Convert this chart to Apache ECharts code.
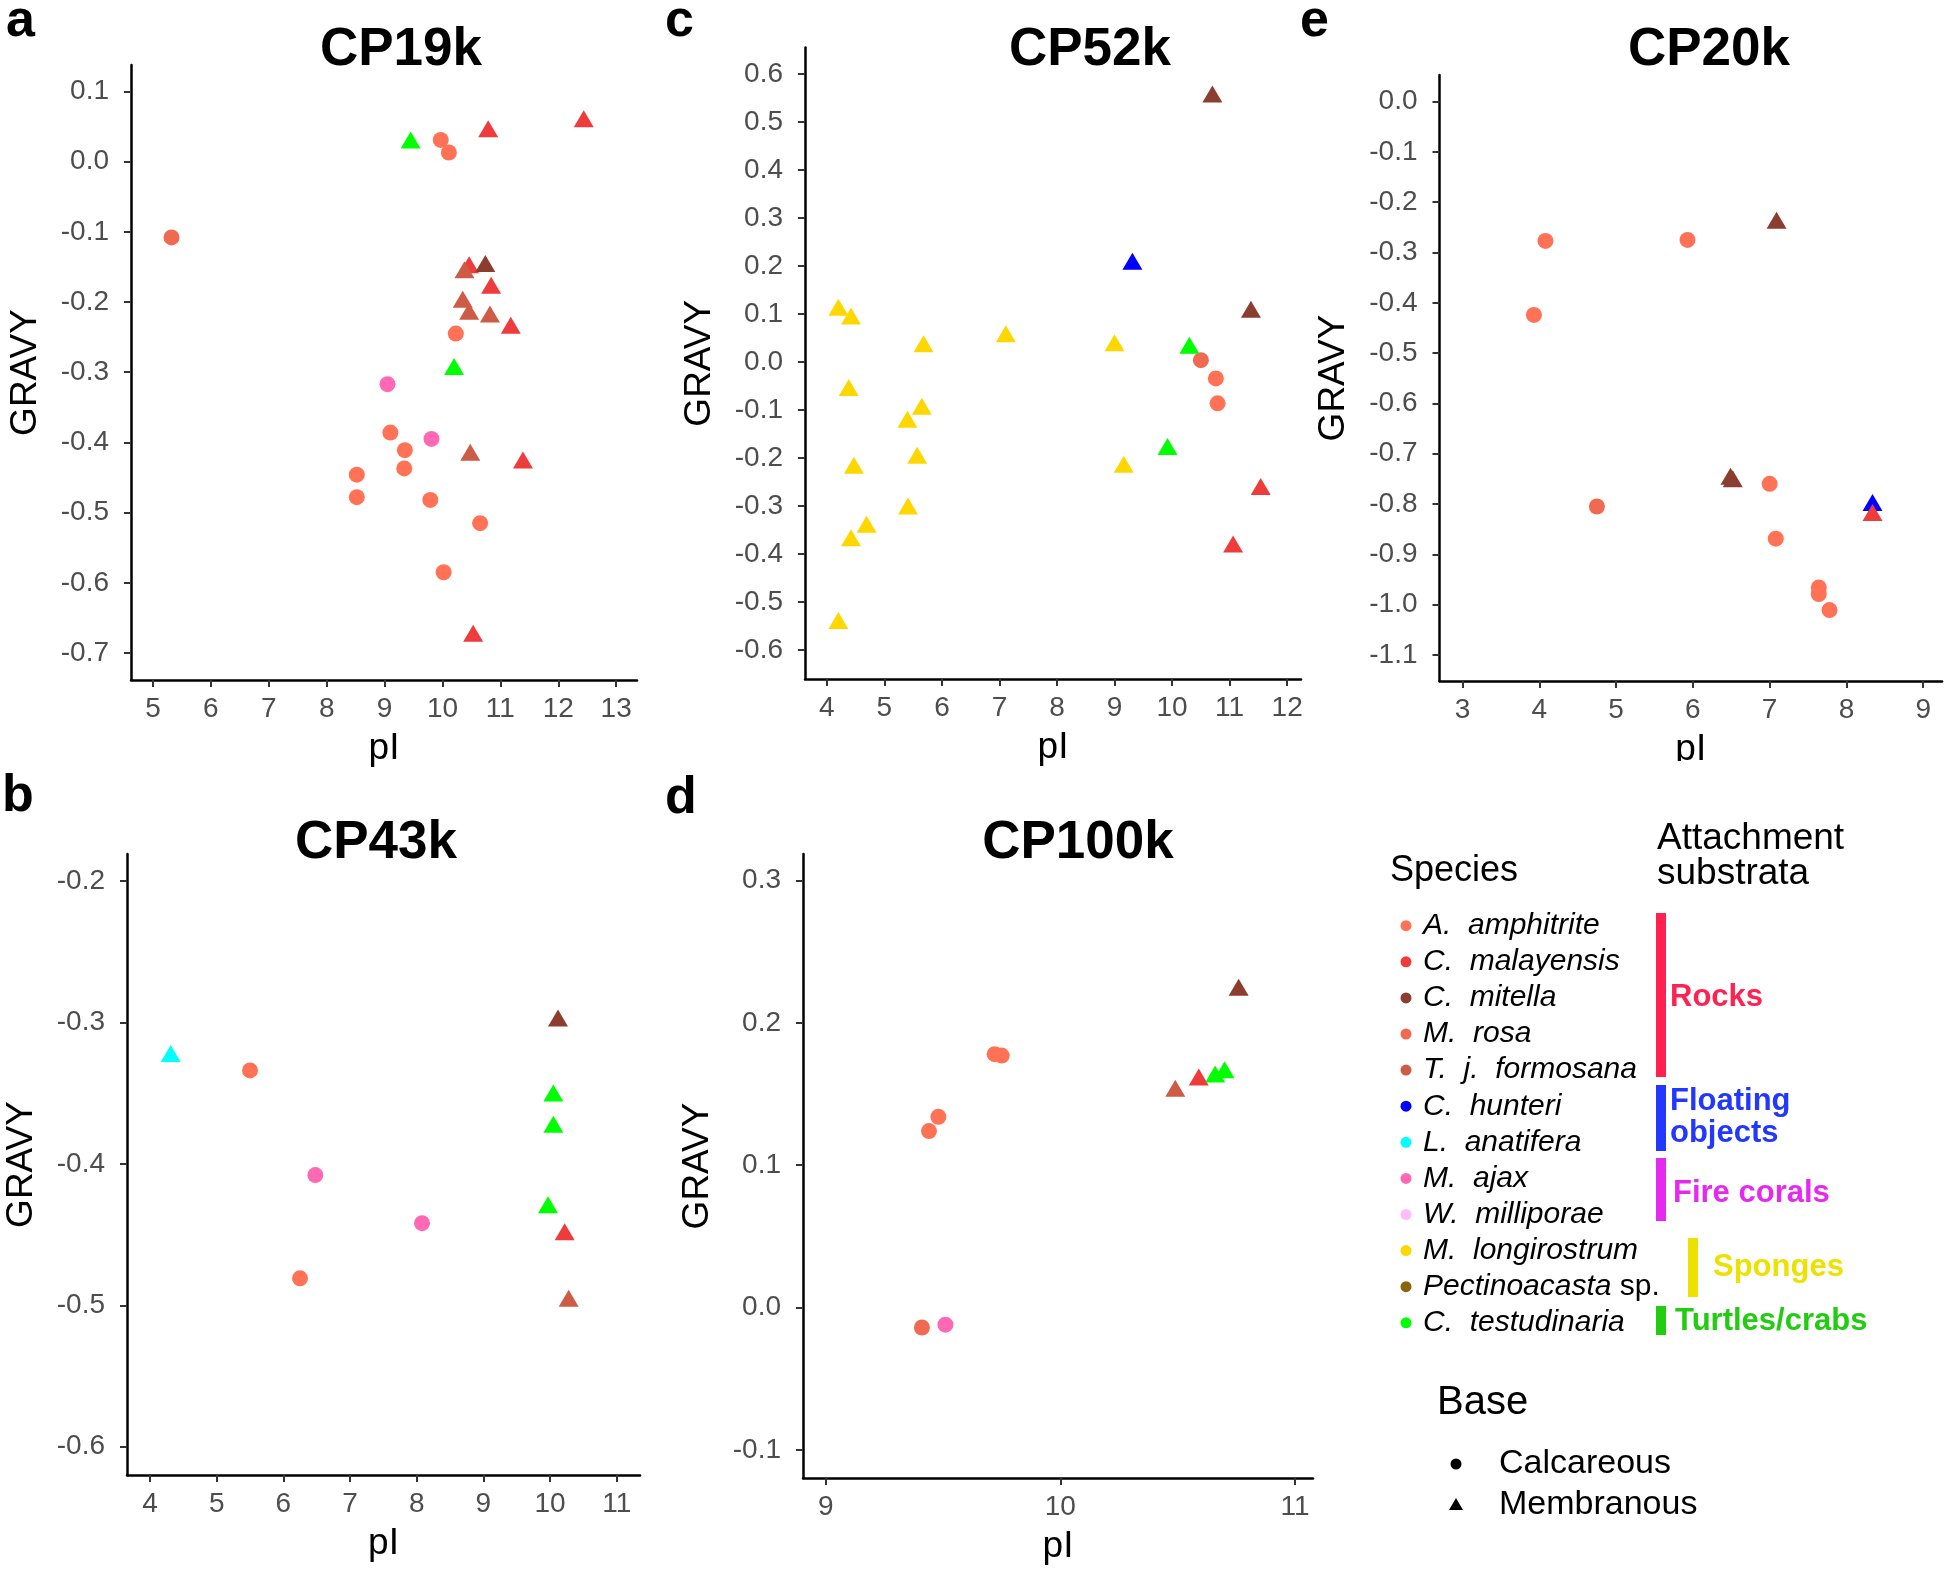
<!DOCTYPE html>
<html><head><meta charset="utf-8">
<script src="https://cdn.jsdelivr.net/npm/echarts@6/dist/echarts.min.js"></script>
<style>html,body{margin:0;padding:0;background:#fff}#chart{width:1946px;height:1576px}</style>
</head><body><div id="chart"></div>
<script>
// ---------- species ----------
const speciesKeys   = ['Aam','Cma','Cmi','Mro','Tjf','Chu','Lan','Maj','Wmi','Mlo','Pec','Cte'];
const speciesNames  = ['A. amphitrite','C. malayensis','C. mitella','M. rosa','T. j. formosana','C. hunteri','L. anatifera','M. ajax','W. milliporae','M. longirostrum','Pectinoacasta sp.','C. testudinaria'];
const speciesBase   = ['Calcareous','Membranous','Membranous','Calcareous','Membranous','Membranous','Membranous','Calcareous','Calcareous','Membranous','Membranous','Membranous'];
const speciesColors = ['#FF7256','#EE3B3B','#8B3E2F','#EE6A50','#CD5B45','#0000FF','#00FFFF','#FF69B4','#FFBBFF','#FFD700','#8B6508','#00FF00'];
const substrataNames  = ['Rocks','Floating\nobjects','Fire corals','Sponges','Turtles/crabs'];
const substrataColors = ['#FF2250','#2238FF','#E52AF0','#EDE100','#22CC11'];
const baseNames = ['Calcareous','Membranous'];

// ---------- CP19k (a) ----------
const cp19k_pI    = [9.45,9.97,10.11,10.79,12.44,5.32,10.46,10.74,10.38,10.84,10.35,10.46,10.82,11.18,10.23,10.20,9.05,9.10,9.81,9.35,9.34,10.48,11.39,8.52,8.52,9.79,10.65,10.02,10.53];
const cp19k_gravy = [0.031,0.031,0.013,0.047,0.061,-0.108,-0.147,-0.145,-0.154,-0.176,-0.196,-0.213,-0.217,-0.233,-0.245,-0.292,-0.317,-0.386,-0.395,-0.411,-0.437,-0.414,-0.425,-0.446,-0.478,-0.482,-0.515,-0.585,-0.672];
const cp19k_species = ['Cte','Aam','Aam','Cma','Cma','Mro','Cma','Cmi','Tjf','Cma','Tjf','Tjf','Tjf','Cma','Aam','Cte','Maj','Aam','Maj','Aam','Aam','Tjf','Cma','Aam','Aam','Aam','Aam','Aam','Cma'];
const cp19k_xTicks = [5,6,7,8,9,10,11,12,13];
const cp19k_yTicks = [-0.7,-0.6,-0.5,-0.4,-0.3,-0.2,-0.1,0.0,0.1];

// ---------- CP43k (b) ----------
const cp43k_pI    = [4.31,5.50,6.48,6.25,8.08,10.12,10.05,10.05,9.97,10.22,10.28];
const cp43k_gravy = [-0.322,-0.334,-0.408,-0.481,-0.442,-0.297,-0.350,-0.372,-0.429,-0.448,-0.495];
const cp43k_species = ['Lan','Aam','Maj','Aam','Maj','Cmi','Cte','Cte','Cte','Cma','Tjf'];
const cp43k_xTicks = [4,5,6,7,8,9,10,11];
const cp43k_yTicks = [-0.6,-0.5,-0.4,-0.3,-0.2];

// ---------- CP52k (c) ----------
const cp52k_pI    = [4.20,4.42,4.38,4.47,4.69,4.42,4.20,5.68,5.65,5.40,5.57,5.41,7.11,9.00,9.16,9.31,10.70,11.37,10.30,9.92,10.50,10.76,10.79,11.54,11.06];
const cp52k_gravy = [0.114,0.096,-0.053,-0.215,-0.338,-0.366,-0.538,0.038,-0.092,-0.119,-0.194,-0.300,0.059,0.040,-0.213,0.210,0.558,0.110,0.035,-0.176,0.004,-0.034,-0.086,-0.259,-0.379];
const cp52k_species = ['Mlo','Mlo','Mlo','Mlo','Mlo','Mlo','Mlo','Mlo','Mlo','Mlo','Mlo','Mlo','Mlo','Mlo','Mlo','Chu','Cmi','Cmi','Cte','Cte','Mro','Aam','Aam','Cma','Cma'];
const cp52k_xTicks = [4,5,6,7,8,9,10,11,12];
const cp52k_yTicks = [-0.6,-0.5,-0.4,-0.3,-0.2,-0.1,0.0,0.1,0.2,0.3,0.4,0.5,0.6];

// ---------- CP100k (d) ----------
const cp100k_pI    = [9.41,9.51,9.44,9.48,9.72,9.75,10.49,10.59,10.66,10.70,10.76];
const cp100k_gravy = [-0.014,-0.012,0.124,0.134,0.178,0.177,0.154,0.162,0.164,0.167,0.225];
const cp100k_species = ['Mro','Maj','Aam','Aam','Aam','Aam','Tjf','Cma','Cte','Cte','Cmi'];
const cp100k_xTicks = [9,10,11];
const cp100k_yTicks = [-0.1,0.0,0.1,0.2,0.3];

// ---------- CP20k (e) ----------
const cp20k_pI    = [4.08,5.93,3.93,7.09,6.49,6.52,4.75,7.00,7.08,7.64,7.64,7.78,8.34,8.34];
const cp20k_gravy = [-0.277,-0.275,-0.424,-0.236,-0.745,-0.750,-0.805,-0.760,-0.869,-0.966,-0.979,-1.011,-0.797,-0.817];
const cp20k_species = ['Aam','Aam','Aam','Cmi','Cmi','Cmi','Mro','Aam','Aam','Aam','Aam','Aam','Chu','Cma'];
const cp20k_xTicks = [3,4,5,6,7,8,9];
const cp20k_yTicks = [-1.1,-1.0,-0.9,-0.8,-0.7,-0.6,-0.5,-0.4,-0.3,-0.2,-0.1,0.0];

const panelTitles  = ['CP19k','CP43k','CP52k','CP100k','CP20k'];
const panelLetters = ['a','b','c','d','e'];

// ---------- build ----------
const FONT = '"Liberation Sans", Arial, Helvetica, sans-serif';
const panels = [
  {pI:cp19k_pI,  gravy:cp19k_gravy,  species:cp19k_species,  xTicks:cp19k_xTicks,  yTicks:cp19k_yTicks,
   box:{left:131, top:65, width:506, height:615}, xr:[4.62,13.36], yr:[-0.7385,0.1377],
   title:[396,19], letter:[6,-4]},
  {pI:cp43k_pI,  gravy:cp43k_gravy,  species:cp43k_species,  xTicks:cp43k_xTicks,  yTicks:cp43k_yTicks,
   box:{left:127, top:854, width:513, height:621}, xr:[3.655,11.35], yr:[-0.62,-0.181],
   title:[371,812], letter:[2,771]},
  {pI:cp52k_pI,  gravy:cp52k_gravy,  species:cp52k_species,  xTicks:cp52k_xTicks,  yTicks:cp52k_yTicks,
   box:{left:805, top:47.5, width:496, height:631.5}, xr:[3.62,12.24], yr:[-0.66,0.655],
   title:[1085,19], letter:[665,-4]},
  {pI:cp100k_pI, gravy:cp100k_gravy, species:cp100k_species, xTicks:cp100k_xTicks, yTicks:cp100k_yTicks,
   box:{left:803, top:854, width:510, height:624}, xr:[8.903,11.077], yr:[-0.1197,0.3186],
   title:[1073,812], letter:[665,773]},
  {pI:cp20k_pI,  gravy:cp20k_gravy,  species:cp20k_species,  xTicks:cp20k_xTicks,  yTicks:cp20k_yTicks,
   box:{left:1439.5, top:75, width:502.5, height:606}, xr:[2.70,9.245], yr:[-1.152,0.053],
   title:[1704,19], letter:[1300,-4]}
];

const grids = [], xAxes = [], yAxes = [], series = [], titles = [], graphics = [];
panels.forEach((p, pi) => {
  grids.push(Object.assign({containLabel:false}, p.box));
  xAxes.push({
    type:'value', gridIndex:pi, min:p.xr[0], max:p.xr[1],
    splitLine:{show:false},
    axisLine:{show:true, onZero:false, lineStyle:{color:'#000', width:2.5}},
    axisTick:{show:true, length:7, lineStyle:{color:'#333', width:2}, customValues:p.xTicks},
    axisLabel:{show:true, customValues:p.xTicks, margin:15, color:'#4D4D4D', fontSize:28, fontFamily:FONT,
               formatter:v=>String(Math.round(v))},
    name:'pI', nameLocation:'middle', nameGap:50,
    nameTextStyle:{fontSize:37, color:'#000', fontFamily:FONT}
  });
  yAxes.push({
    type:'value', gridIndex:pi, min:p.yr[0], max:p.yr[1],
    splitLine:{show:false},
    axisLine:{show:true, onZero:false, lineStyle:{color:'#000', width:2.5}},
    axisTick:{show:true, length:7, lineStyle:{color:'#333', width:2}, customValues:p.yTicks},
    axisLabel:{show:true, customValues:p.yTicks, margin:22, color:'#4D4D4D', fontSize:28, fontFamily:FONT,
               formatter:v=>v.toFixed(1)},
    name:'GRAVY', nameLocation:'middle', nameGap:87,
    nameTextStyle:{fontSize:37, color:'#000', fontFamily:FONT}
  });
  titles.push({text:panelTitles[pi], left:p.title[0], top:p.title[1], textAlign:'center',
    textStyle:{fontSize:53, fontWeight:'bold', color:'#000', fontFamily:FONT}});
  graphics.push({type:'text', x:p.letter[0], y:p.letter[1],
    style:{text:panelLetters[pi], font:'bold 52px '+FONT, fill:'#000', textAlign:'left', textVerticalAlign:'top'}});
  speciesKeys.forEach((k, si) => {
    const pts = [];
    p.species.forEach((s, j) => { if (s === k) pts.push([p.pI[j], p.gravy[j]]); });
    if (!pts.length) return;
    const calc = speciesBase[si] === 'Calcareous';
    series.push({
      type:'scatter', name:speciesNames[si], xAxisIndex:pi, yAxisIndex:pi, data:pts,
      symbol: calc ? 'circle' : 'triangle', symbolSize: calc ? 16 : [20,17],
      itemStyle:{color:speciesColors[si], opacity:1}, z: k === 'Chu' ? 1 : 2,
      silent:true, emphasis:{disabled:true}
    });
  });
});

// panel e's x-axis title is cut at the bottom of its panel in the original figure
graphics.push({type:'rect', z:100, shape:{x:1640, y:761, width:120, height:16}, style:{fill:'#fff'}});

// ---------- legend: species ----------
graphics.push({type:'text', x:1390, y:871, style:{text:'Species', font:'36px '+FONT, fill:'#000', textAlign:'left', textVerticalAlign:'middle'}});
graphics.push({type:'text', x:1657, y:856, style:{text:'Attachment\nsubstrata', font:'37px '+FONT, lineHeight:35, fill:'#000', textAlign:'left', textVerticalAlign:'middle'}});
const rowY = i => 925.7 + i * 36.1;
speciesNames.forEach((nm, i) => {
  graphics.push({type:'circle', shape:{cx:1406, cy:rowY(i), r:5.5}, style:{fill:speciesColors[i]}});
  const parts = nm.split(' ');
  let txt;
  if (nm.endsWith(' sp.')) {
    txt = '{i|' + nm.replace(' sp.','') + '}{n| sp.}';
  } else {
    txt = '{i|' + parts.join('  ') + '}';
  }
  graphics.push({type:'text', x:1423, y:rowY(i), style:{text:txt, textAlign:'left', textVerticalAlign:'middle',
    rich:{i:{font:'italic 30px '+FONT, fill:'#000'}, n:{font:'30px '+FONT, fill:'#000'}}}});
});

// ---------- legend: attachment substrata ----------
const subBars = [[1656,913,164],[1656,1085,66],[1656,1158,63],[1688,1238,59],[1656,1306,29]];
const subText = [[1670,997],[1670,1117],[1673,1193],[1713,1267],[1675,1321]];
substrataNames.forEach((nm, i) => {
  graphics.push({type:'rect', shape:{x:subBars[i][0], y:subBars[i][1], width:10, height:subBars[i][2]}, style:{fill:substrataColors[i]}});
  graphics.push({type:'text', x:subText[i][0], y:subText[i][1], style:{text:nm, font:'bold 31px '+FONT, lineHeight:32, fill:substrataColors[i], textAlign:'left', textVerticalAlign:'middle'}});
});

// ---------- legend: base ----------
graphics.push({type:'text', x:1437, y:1403, style:{text:'Base', font:'40px '+FONT, fill:'#000', textAlign:'left', textVerticalAlign:'middle'}});
graphics.push({type:'circle', shape:{cx:1456, cy:1464, r:5.5}, style:{fill:'#000'}});
graphics.push({type:'polygon', shape:{points:[[1456,1498],[1463,1510],[1449,1510]]}, style:{fill:'#000'}});
graphics.push({type:'text', x:1499, y:1464, style:{text:baseNames[0], font:'34px '+FONT, fill:'#000', textAlign:'left', textVerticalAlign:'middle'}});
graphics.push({type:'text', x:1499, y:1505, style:{text:baseNames[1], font:'34px '+FONT, fill:'#000', textAlign:'left', textVerticalAlign:'middle'}});

const chart = echarts.init(document.getElementById('chart'), null, {renderer:'canvas'});
chart.setOption({
  animation:false, backgroundColor:'#fff',
  title:titles, grid:grids, xAxis:xAxes, yAxis:yAxes, series:series,
  graphic:{elements:graphics}, tooltip:{show:false}
});
</script></body></html>
